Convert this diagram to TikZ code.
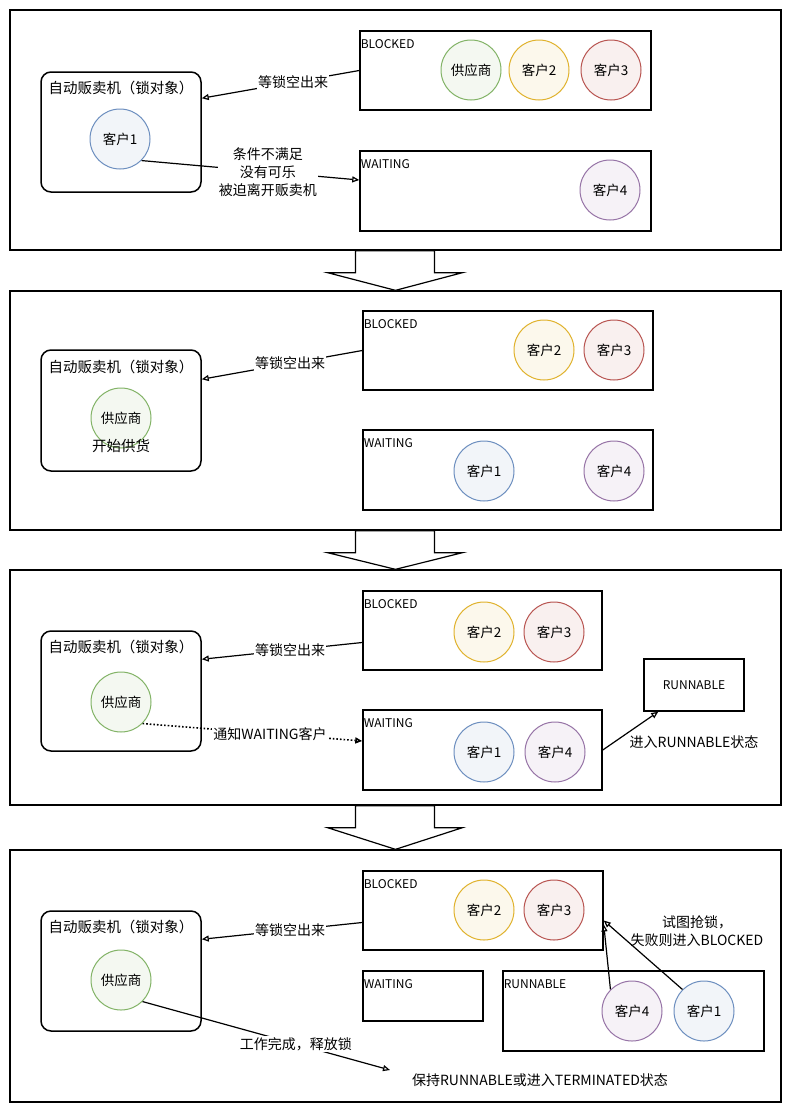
\documentclass[tikz,border=0pt]{standalone}
\usepackage{fontspec}
\setmainfont{Noto Sans CJK SC}
\usetikzlibrary{arrows.meta,positioning,calc}
\definecolor{sgreen}{HTML}{82B366}
\definecolor{syellow}{HTML}{E0B22C}
\definecolor{sred}{HTML}{B85450}
\definecolor{sblue}{HTML}{6C8EBF}
\definecolor{spurple}{HTML}{9673A6}

\begin{document}
\begin{tikzpicture}[x=1pt, y=-1pt, line width=1.2pt, >={Triangle[open,length=7pt,width=6pt]},
  panel node/.style={draw, line width=1.3pt, inner sep=0pt, minimum width=771pt},
  machine node/.style={draw, rounded corners=10pt, line width=1.5pt, inner sep=0pt, minimum width=160pt, minimum height=120pt},
  state node/.style={draw, line width=1.5pt, inner sep=0pt},
  client node/.style={circle, draw=#1, fill=#1!9, line width=1pt, minimum size=60pt, inner sep=0pt, font=\fontsize{13.5}{15}\selectfont},
  tag/.style={anchor=north west, inner sep=1pt, yshift=-8pt, font=\fontsize{12}{14}\selectfont},
  title/.style={font=\fontsize{14.5}{17}\selectfont},
  note/.style={fill=white, inner sep=1pt, align=center, font=\fontsize{14}{18}\selectfont}]
\useasboundingbox (0,0) rectangle (791,1111);
\fill[white] (0,0) rectangle (791,1111);

% panels
\node[panel node, minimum height=240pt] (p1) at (395.5,130) {};
\node[panel node, minimum height=239pt] (p2) at (395.5,410.5) {};
\node[panel node, minimum height=235pt] (p3) at (395.5,687.5) {};
\node[panel node, minimum height=252pt] (p4) at (395.5,976) {};
\foreach \a/\b in {p1/p2, p2/p3, p3/p4}
  \draw[fill=white] ($(\a.south)+(-40,0)$) -- ++(0,22) -- ++(-28,0) -- (\b.north)
    -- ($(\a.south)+(67,22)$) -- ++(-28,0) -- ++(0,-22) -- cycle;

% panel 1
\node[machine node] (m1) at (121,132) {};
\node[title] (m1t) at (121,88) {自动贩卖机（锁对象）};
\node[state node, minimum width=291pt, minimum height=79pt] (b1) at (505.5,70.5) {};
\node[tag] (b1t) at (b1.north west) {BLOCKED};
\node[state node, minimum width=291pt, minimum height=80pt] (w1) at (505.5,191) {};
\node[tag] (w1t) at (w1.north west) {WAITING};
\node[client node=sblue] (k11) at (120,139) {客户1};
\node[client node=sgreen] (g1) at (471,70) {供应商};
\node[client node=syellow] (k12) at (539,70) {客户2};
\node[client node=sred] (k13) at (611,70) {客户3};
\node[client node=spurple] (k14) at (610,190) {客户4};
\draw[->] (b1.west) -- node[note, pos=0.42] (l1a) {等锁空出来} ([yshift=-27pt]m1.north east);
\draw[->] (k11.south east) -- node[note, pos=0.58] (l1b) {条件不满足\\没有可乐\\被迫离开贩卖机} ([yshift=11pt]w1.west);

% panel 2
\node[machine node, minimum height=121pt] (m2) at (121,410.5) {};
\node[title] (m2t) at (121,367) {自动贩卖机（锁对象）};
\node[state node, minimum width=290pt, minimum height=79pt] (b2) at (508,350.5) {};
\node[tag] (b2t) at (b2.north west) {BLOCKED};
\node[state node, minimum width=290pt, minimum height=80pt] (w2) at (508,470) {};
\node[tag] (w2t) at (w2.north west) {WAITING};
\node[client node=sgreen] (g2) at (121,418) {供应商};
\node[title] (g2t) at (121,446) {开始供货};
\node[client node=syellow] (k22) at (544,350) {客户2};
\node[client node=sred] (k23) at (614,350) {客户3};
\node[client node=sblue] (k21) at (484,471) {客户1};
\node[client node=spurple] (k24) at (614,471) {客户4};
\draw[->] (b2.west) -- node[note, pos=0.45] (l2a) {等锁空出来} ([yshift=-30pt]m2.north east);

% panel 3
\node[machine node] (m3) at (121,691) {};
\node[title] (m3t) at (121,647) {自动贩卖机（锁对象）};
\node[state node, minimum width=239pt, minimum height=79pt] (b3) at (482.5,630.5) {};
\node[tag] (b3t) at (b3.north west) {BLOCKED};
\node[state node, minimum width=239pt, minimum height=80pt] (w3) at (482.5,750) {};
\node[tag] (w3t) at (w3.north west) {WAITING};
\node[state node, minimum width=100pt, minimum height=52pt, font=\fontsize{12}{14}\selectfont] (r3) at (694,685) {RUNNABLE};
\node[client node=sgreen] (g3) at (121,702) {供应商};
\node[client node=syellow] (k32) at (484,632) {客户2};
\node[client node=sred] (k33) at (554,632) {客户3};
\node[client node=sblue] (k31) at (484,752) {客户1};
\node[client node=spurple] (k34) at (555,752) {客户4};
\draw[->] ([yshift=-12pt]b3.west) -- node[note, pos=0.45] (l3a) {等锁空出来} ([yshift=-29pt]m3.north east);
\draw[->, dotted, line width=1.6pt] (g3.south east) -- node[note, pos=0.58] (l3b) {通知WAITING客户} ([yshift=9pt]w3.west);
\draw[->] (w3.east) -- ([xshift=15pt]r3.south west);
\node[note] (l3c) at (694,742) {进入RUNNABLE状态};

% panel 4
\node[machine node] (m4) at (121,971) {};
\node[title] (m4t) at (121,927) {自动贩卖机（锁对象）};
\node[state node, minimum width=240pt, minimum height=79pt] (b4) at (483,910.5) {};
\node[tag] (b4t) at (b4.north west) {BLOCKED};
\node[state node, minimum width=120pt, minimum height=50pt] (w4) at (423,996) {};
\node[tag] (w4t) at (w4.north west) {WAITING};
\node[state node, minimum width=261pt, minimum height=80pt] (r4) at (633.5,1011) {};
\node[tag] (r4t) at (r4.north west) {RUNNABLE};
\node[client node=sgreen] (g4) at (121,980) {供应商};
\node[client node=syellow] (k42) at (484,910) {客户2};
\node[client node=sred] (k43) at (554,910) {客户3};
\node[client node=spurple] (k44) at (632,1011) {客户4};
\node[client node=sblue] (k41) at (704,1011) {客户1};
\draw[->] ([yshift=-12pt]b4.west) -- node[note, pos=0.45] (l4a) {等锁空出来} ([yshift=-29pt]m4.north east);
\draw[->] (k44.north west) -- ([yshift=-14pt]b4.east);
\draw[->] (k41.north west) -- ([yshift=-10pt]b4.east);
\node[note, fill=none] (l4b) at (697,931) {试图抢锁，\\失败则进入BLOCKED};
\coordinate (t4) at (390,1070);
\node[note] (l4d) at (540,1080) {保持RUNNABLE或进入TERMINATED状态};
\draw[->] (g4.south east) -- node[note, pos=0.62] (l4c) {工作完成，释放锁} (t4);
\end{tikzpicture}
\end{document}
